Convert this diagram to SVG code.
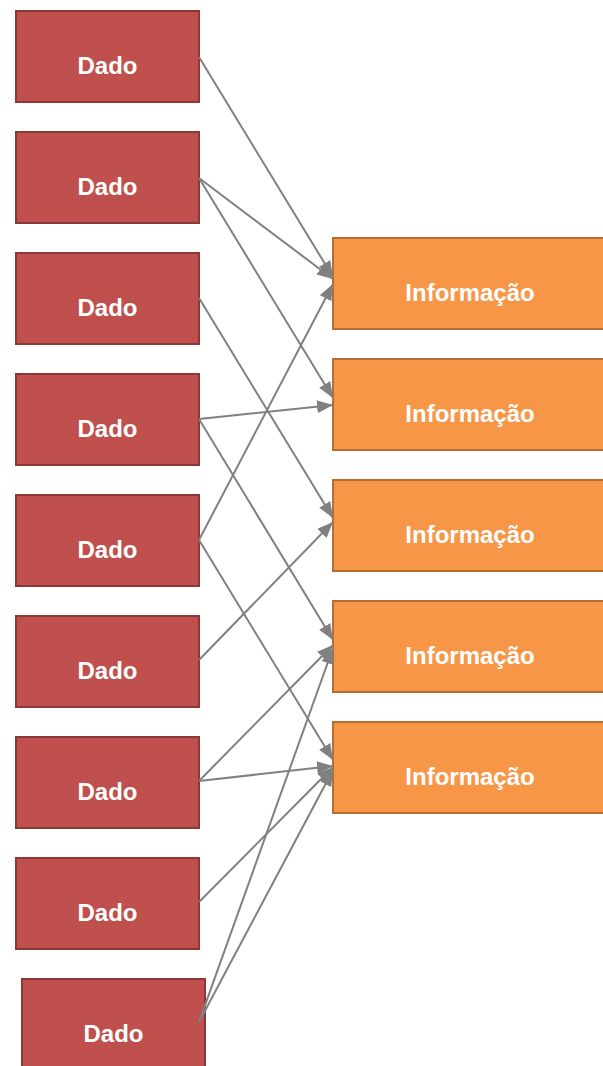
<svg xmlns="http://www.w3.org/2000/svg" width="603" height="1066" viewBox="0 0 603 1066">
<defs>
<style>
.dado rect{fill:#C0504D;stroke:#8C3836;stroke-width:2}
.info rect{fill:#F79646;stroke:#B66D31;stroke-width:2}
text{font-family:"Liberation Sans",Arial,sans-serif;font-weight:bold;font-size:24px;fill:#FFFFFF;text-anchor:middle}
#connectors line{stroke:#808080;stroke-width:2;fill:none;marker-end:url(#arrow)}
</style>
<marker id="arrow" markerUnits="userSpaceOnUse" markerWidth="16" markerHeight="13" refX="16" refY="6.5" orient="auto">
<path d="M0,0 L16,6.5 L0,13 z" fill="#808080"/>
</marker>
</defs>
<rect width="603" height="1066" fill="#FFFFFF"/>
<g id="dado1" class="dado"><rect x="16" y="11" width="183" height="91"/><text x="107.5" y="74">Dado</text></g>
<g id="dado2" class="dado"><rect x="16" y="132" width="183" height="91"/><text x="107.5" y="195">Dado</text></g>
<g id="dado3" class="dado"><rect x="16" y="253" width="183" height="91"/><text x="107.5" y="316">Dado</text></g>
<g id="dado4" class="dado"><rect x="16" y="374" width="183" height="91"/><text x="107.5" y="437">Dado</text></g>
<g id="dado5" class="dado"><rect x="16" y="495" width="183" height="91"/><text x="107.5" y="558">Dado</text></g>
<g id="dado6" class="dado"><rect x="16" y="616" width="183" height="91"/><text x="107.5" y="679">Dado</text></g>
<g id="dado7" class="dado"><rect x="16" y="737" width="183" height="91"/><text x="107.5" y="800">Dado</text></g>
<g id="dado8" class="dado"><rect x="16" y="858" width="183" height="91"/><text x="107.5" y="921">Dado</text></g>
<g id="dado9" class="dado"><rect x="22" y="979" width="183" height="91"/><text x="113.5" y="1042">Dado</text></g>
<g id="info1" class="info"><rect x="333" y="238" width="274" height="91"/><text x="470" y="301">Informação</text></g>
<g id="info2" class="info"><rect x="333" y="359" width="274" height="91"/><text x="470" y="422">Informação</text></g>
<g id="info3" class="info"><rect x="333" y="480" width="274" height="91"/><text x="470" y="543">Informação</text></g>
<g id="info4" class="info"><rect x="333" y="601" width="274" height="91"/><text x="470" y="664">Informação</text></g>
<g id="info5" class="info"><rect x="333" y="722" width="274" height="91"/><text x="470" y="785">Informação</text></g>
<g id="connectors">
<line x1="199" y1="57" x2="333" y2="277"/>
<line x1="199" y1="178" x2="333" y2="279"/>
<line x1="199" y1="178" x2="333" y2="398"/>
<line x1="199" y1="298" x2="333" y2="518"/>
<line x1="199" y1="419" x2="333" y2="405"/>
<line x1="199" y1="419" x2="333" y2="640"/>
<line x1="199" y1="540" x2="333" y2="284"/>
<line x1="199" y1="540" x2="333" y2="760"/>
<line x1="199" y1="660" x2="333" y2="522"/>
<line x1="199" y1="781" x2="333" y2="645"/>
<line x1="199" y1="781" x2="333" y2="766"/>
<line x1="199" y1="902" x2="333" y2="767"/>
<line x1="199" y1="1022" x2="333" y2="648"/>
<line x1="199" y1="1022" x2="333" y2="770"/>
</g>
</svg>
